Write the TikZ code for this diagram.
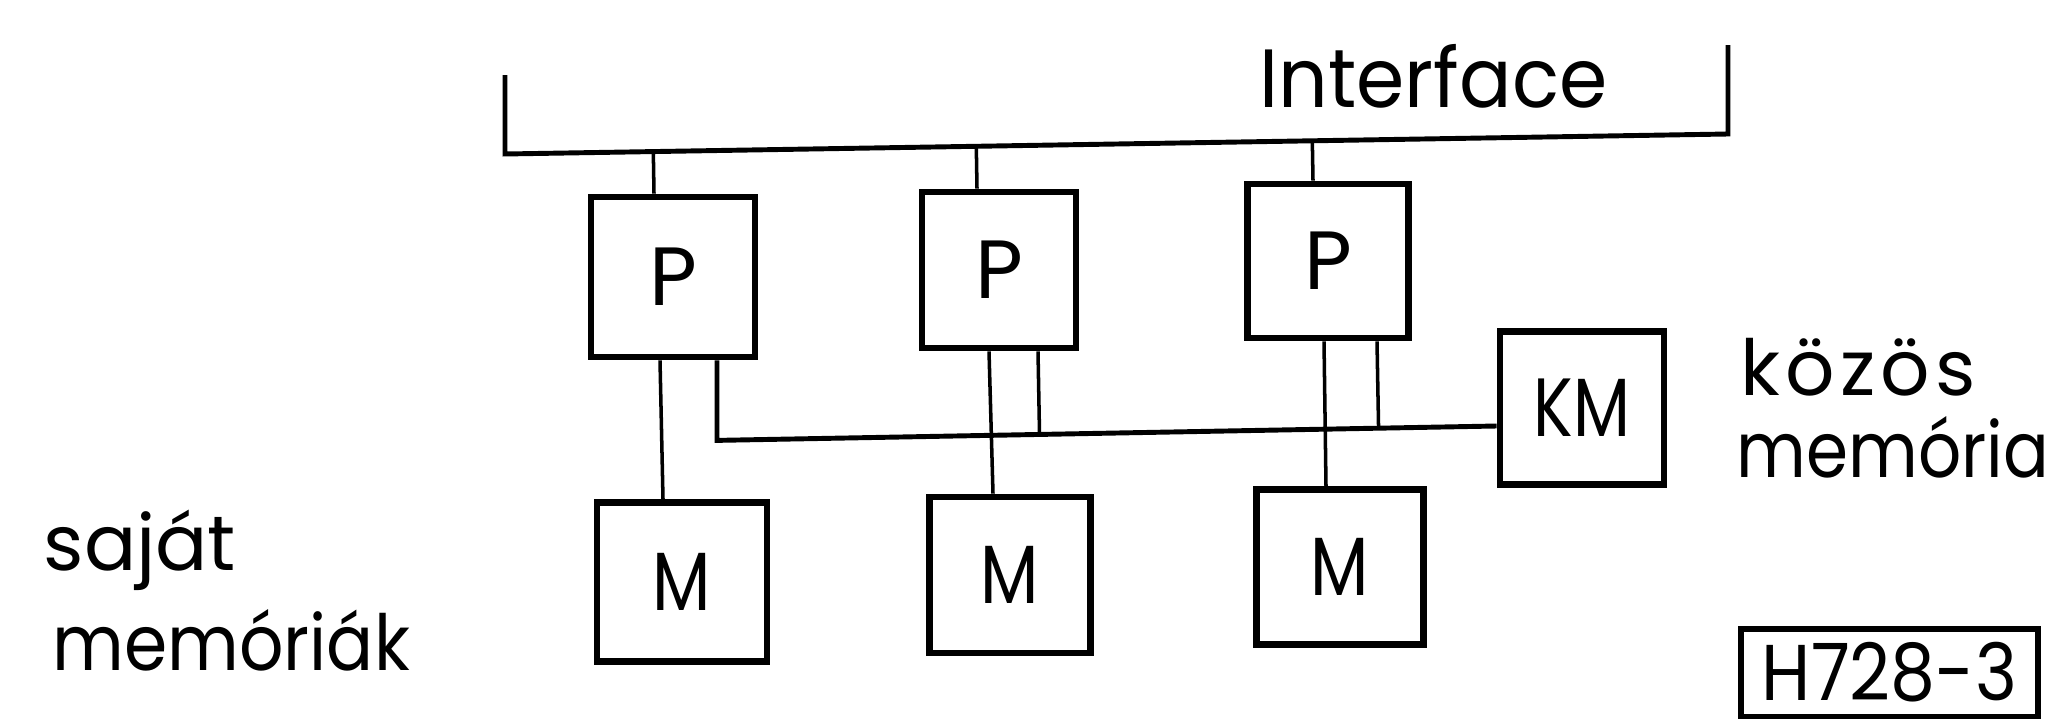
\documentclass[tikz,border=0pt]{standalone}
\usepackage{fontspec}
\setmainfont{Poppins}
\usetikzlibrary{calc}
% horizontal squeeze for the technical lettering
\newcommand{\squeezed}[2]{\scalebox{#1}[1]{#2}}
\begin{document}
\begin{tikzpicture}[x=0.01cm,y=-0.01cm,
  blk/.style={draw, line width=1.9pt, inner sep=0pt, font=\fontsize{23.5}{28}\selectfont},
  bus/.style={line width=1.4pt},
  wire/.style={line width=1.0pt},
  lbl/.style={inner sep=0pt, font=\fontsize{22}{27}\selectfont}]
\fill[white] (0,0) rectangle (2048,718);
\useasboundingbox (0,0) rectangle (2048,718);

% processors
\node[blk, minimum width=1.64cm, minimum height=1.60cm] (P1) at (673,277) {P};
\node[blk, minimum width=1.54cm, minimum height=1.56cm] (P2) at (999,270) {P};
\node[blk, minimum width=1.61cm, minimum height=1.54cm] (P3) at (1328,261) {P};
% own memories
\node[blk, minimum width=1.70cm, minimum height=1.59cm] (M1) at (682,582) {\squeezed{0.82}{M}};
\node[blk, minimum width=1.61cm, minimum height=1.56cm] (M2) at (1010,575) {\squeezed{0.82}{M}};
\node[blk, minimum width=1.67cm, minimum height=1.55cm] (M3) at (1340,567) {\squeezed{0.82}{M}};
% common memory
\node[blk, minimum width=1.64cm, minimum height=1.53cm] (KM) at (1582,408) {\squeezed{0.8}{KM}};

% interface bus
\coordinate (ifL) at (505,75);
\coordinate (busL) at (505,154);
\coordinate (busR) at (1728,134);
\coordinate (ifR) at (1728,45);
\draw[bus] (ifL) -- (busL) -- (busR) -- (ifR);
\node[lbl, font=\fontsize{23.5}{28}\selectfont, anchor=base west] (iface) at (1259,107) {\squeezed{0.94}{Interface}};

\coordinate (d1) at ($(P1.north)+(-19,0)$);
\coordinate (d2) at ($(P2.north)+(-22,0)$);
\coordinate (d3) at ($(P3.north)+(-15,0)$);
\draw[wire] (d1) -- ($(busL)!(d1)!(busR)$);
\draw[wire] (d2) -- ($(busL)!(d2)!(busR)$);
\draw[wire] (d3) -- ($(busL)!(d3)!(busR)$);

% processor to own memory
\draw[wire] ($(P1.south)+(-13,0)$) -- ($(M1.north)+(-19,0)$);
\draw[wire] ($(P2.south)+(-10,0)$) -- ($(M2.north)+(-17,0)$);
\draw[wire] ($(P3.south)+(-4,0)$) -- ($(M3.north)+(-14,0)$);

% common memory bus
\coordinate (s1) at ($(P1.south)+(44,0)$);
\coordinate (sbL) at ($(P1.south)+(44,80)$);
\coordinate (sbR) at ($(KM.west)+(0,18)$);
\draw[bus] (s1) -- (sbL) -- (sbR);
\coordinate (s2) at ($(P2.south)+(39,0)$);
\coordinate (s3) at ($(P3.south)+(49,0)$);
\draw[wire] (s2) -- ($(sbL)!(s2)!(sbR)$);
\draw[wire] (s3) -- ($(sbL)!(s3)!(sbR)$);

% labels
\node[lbl, anchor=base west] (kozos) at (1740,395) {\addfontfeature{LetterSpace=6.6}közös};
\node[lbl, anchor=base west] (kmem) at (1736,477) {\squeezed{0.875}{memória}};
\node[lbl, anchor=base west] (sajat) at (43,570) {saját};
\node[lbl, anchor=base west] (smem) at (52,670) {\squeezed{0.9}{memóriák}};

% drawing code
\node[draw, line width=1.6pt, minimum width=2.97cm, minimum height=0.88cm,
  text height=0.56cm, text depth=0pt,
  anchor=north west, inner sep=0pt, font=\fontsize{22.5}{27}\selectfont] (code) at (1738,626) {\squeezed{0.9}{H728-3}};
\end{tikzpicture}
\end{document}
